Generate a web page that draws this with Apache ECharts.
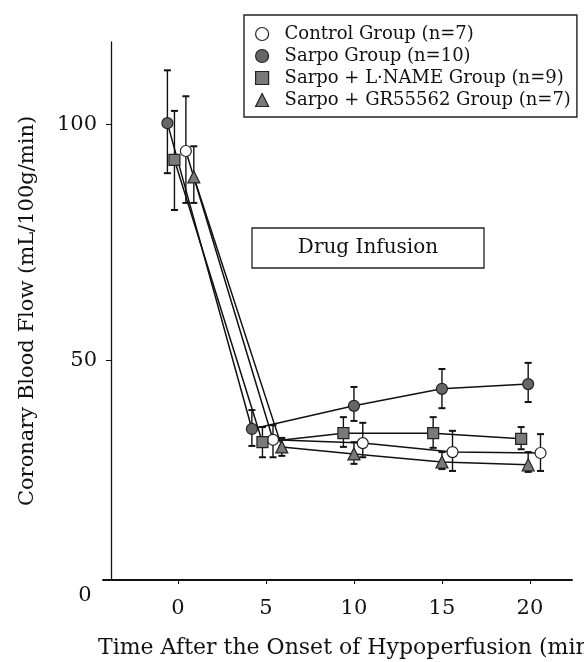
<!DOCTYPE html>
<html><head><meta charset="utf-8">
<script src="https://cdn.jsdelivr.net/npm/echarts@6/dist/echarts.min.js"></script>
<style>html,body{margin:0;padding:0;background:#fff}#c{width:584px;height:662px}</style>
</head><body><div id="c"></div>
<script>
const FONT = 'DejaVu Serif';
const INK = '#111';

// tick labels
const xTicks = [0, 5, 10, 15, 20];
const yTicks = [50, 100];
const yZeroTick = 0;

// series names
const names = ['Control Group (n=7)', 'Sarpo Group (n=10)', 'Sarpo + L\u00B7NAME Group (n=9)', 'Sarpo + GR55562 Group (n=7)'];

// Control group
const controlX  = [0.45, 5.4, 10.5, 15.6, 20.6];
const controlY  = [94.3, 33.1, 32.4, 30.5, 30.3];
const controlHi = [105.9, 36.2, 36.7, 35.0, 34.3];
const controlLo = [83.3, 29.4, 29.4, 26.5, 26.5];

// Sarpo group
const sarpoX  = [-0.6, 4.2, 10, 15, 19.9];
const sarpoY  = [100.2, 35.4, 40.3, 43.9, 44.9];
const sarpoHi = [111.4, 39.4, 44.3, 48.1, 49.4];
const sarpoLo = [89.6, 31.8, 37.1, 39.8, 41.1];

// Sarpo + L-NAME group
const lnameX  = [-0.2, 4.8, 9.4, 14.5, 19.5];
const lnameY  = [92.4, 32.6, 34.5, 34.5, 33.3];
const lnameHi = [102.8, 35.8, 37.9, 37.9, 35.8];
const lnameLo = [81.8, 29.4, 31.6, 31.4, 31.1];

// Sarpo + GR55562 group
const grX  = [0.9, 5.9, 10, 15, 19.9];
const grY  = [88.8, 31.6, 30.1, 28.4, 27.8];
const grHi = [95.3, 33.5, 32.6, 30.5, 30.5];
const grLo = [83.3, 29.7, 28.0, 26.9, 26.3];

// significance marker
const starX = [21.7];
const starY = [46.6];

const groups = [
  {name: names[0], x: controlX, y: controlY, hi: controlHi, lo: controlLo, symbol: 'circle', size: 11, fill: '#ffffff'},
  {name: names[1], x: sarpoX, y: sarpoY, hi: sarpoHi, lo: sarpoLo, symbol: 'circle', size: 11, fill: '#666666'},
  {name: names[2], x: lnameX, y: lnameY, hi: lnameHi, lo: lnameLo, symbol: 'rect', size: 11, fill: '#7a7a7a'},
  {name: names[3], x: grX, y: grY, hi: grHi, lo: grLo, symbol: 'triangle', size: 12, fill: '#7a7a7a'}
];

function errItem(params, api) {
  const x = api.value(0), lo = api.value(1), hi = api.value(2);
  const pLo = api.coord([x, lo]), pHi = api.coord([x, hi]);
  const w = 3.5;
  return {type: 'group', children: [
    {type: 'line', shape: {x1: pLo[0], y1: pLo[1], x2: pHi[0], y2: pHi[1]}, style: {stroke: INK, lineWidth: 1.4}},
    {type: 'line', shape: {x1: pLo[0] - w, y1: pLo[1], x2: pLo[0] + w, y2: pLo[1]}, style: {stroke: INK, lineWidth: 2}},
    {type: 'line', shape: {x1: pHi[0] - w, y1: pHi[1], x2: pHi[0] + w, y2: pHi[1]}, style: {stroke: INK, lineWidth: 2}}
  ]};
}

const series = [];
groups.forEach(function (g) {
  series.push({
    type: 'custom', name: g.name + ' SE', renderItem: errItem, z: 2, silent: true,
    data: g.x.map(function (v, k) { return [v, g.lo[k], g.hi[k]]; })
  });
});
groups.forEach(function (g) {
  series.push({
    type: 'line', name: g.name, z: 3,
    data: g.x.map(function (v, k) { return [v, g.y[k]]; }),
    symbol: g.symbol, symbolSize: g.size, showAllSymbol: true,
    lineStyle: {color: INK, width: 1.5},
    itemStyle: {color: g.fill, borderColor: '#222', borderWidth: 1.2},
    emphasis: {disabled: true}
  });
});
series.push({
  type: 'scatter', name: 'star', symbol: 'none', z: 4,
  data: starX.map(function (v, k) { return [v, starY[k]]; }),
  label: {show: true, formatter: '*', position: 'inside', fontFamily: FONT, fontSize: 22, color: INK}
});

const chart = echarts.init(document.getElementById('c'));
chart.setOption({
  animation: false,
  backgroundColor: '#ffffff',
  grid: {left: 103, right: 12, top: 42, bottom: 82},
  xAxis: {
    type: 'value', min: -4.26, max: 22.39,
    axisLine: {onZero: false, lineStyle: {color: INK, width: 1.8}},
    axisTick: {customValues: xTicks, length: 4, lineStyle: {color: INK}},
    axisLabel: {customValues: xTicks, margin: 18, fontFamily: FONT, fontSize: 21, color: INK},
    splitLine: {show: false}
  },
  yAxis: {
    type: 'value', min: 3.39, max: 117.4, offset: -8,
    axisLine: {show: true, onZero: false, lineStyle: {color: INK, width: 1.3}},
    axisTick: {show: true, customValues: yTicks, length: 5, lineStyle: {color: INK}},
    axisLabel: {customValues: yTicks, margin: 14, fontFamily: FONT, fontSize: 21, color: INK},
    splitLine: {show: false}
  },
  legend: {
    orient: 'vertical', left: 244, top: 15,
    borderColor: '#222', borderWidth: 1.4, padding: [10, 6, 8, 11],
    itemGap: 4, itemWidth: 13, itemHeight: 13,
    textStyle: {fontFamily: FONT, fontSize: 18, color: INK, padding: [0, 0, 0, 11]},
    data: groups.map(function (g) {
      return {name: g.name, icon: g.symbol, itemStyle: {color: g.fill, borderColor: '#222', borderWidth: 1.2}};
    })
  },
  series: series
});

const zeroPix = chart.convertToPixel({yAxisIndex: 0}, yZeroTick);
chart.setOption({
  graphic: [
    {type: 'text', x: 85, y: zeroPix, style: {text: String(yZeroTick), fontFamily: FONT, fontSize: 21, fill: INK, align: 'center', verticalAlign: 'middle'}},
    {type: 'text', x: 28, y: 311, rotation: Math.PI / 2,
      style: {text: 'Coronary Blood Flow (mL/100g/min)', fontFamily: FONT, fontSize: 21, fill: INK, align: 'center', verticalAlign: 'middle'}},
    {type: 'text', x: 98, y: 648,
      style: {text: 'Time After the Onset of Hypoperfusion (min)', fontFamily: FONT, fontSize: 22, fill: INK, align: 'left', verticalAlign: 'middle'}},
    {type: 'rect', shape: {x: 252, y: 228, width: 232, height: 40}, style: {fill: '#fff', stroke: '#222', lineWidth: 1.3}, z: 1},
    {type: 'text', x: 368, y: 248, z: 2,
      style: {text: 'Drug Infusion', fontFamily: FONT, fontSize: 20, fill: INK, align: 'center', verticalAlign: 'middle'}}
  ]
});
</script></body></html>
